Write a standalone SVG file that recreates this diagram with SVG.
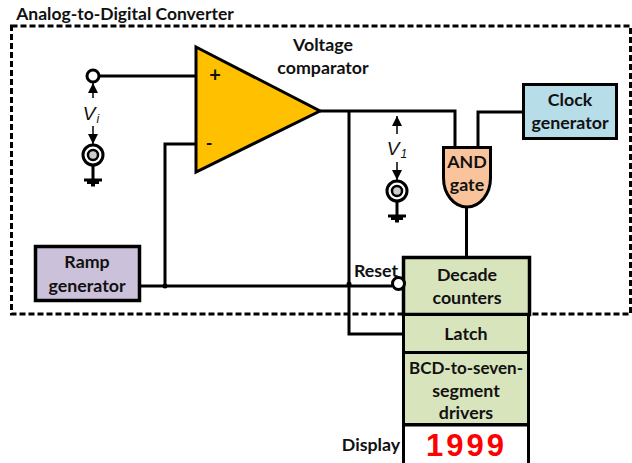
<svg xmlns="http://www.w3.org/2000/svg" width="632" height="463" viewBox="0 0 632 463">
<style>
text{font-family:"Lato","Open Sans","Liberation Sans",sans-serif;font-weight:700;font-size:17.800px;fill:#111;text-anchor:middle}
.w{fill:none;stroke:#000;stroke-width:3}
.t{fill:none;stroke:#000;stroke-width:1.500}
.v{font-family:"Liberation Sans",sans-serif;font-style:italic;font-weight:400;font-size:19px}
.s{font-size:12px}
</style>
<defs>
<marker id="a" markerWidth="12" markerHeight="12" refX="10" refY="5" orient="auto" markerUnits="userSpaceOnUse"><path d="M0 0L10 5L0 10Z" fill="#000"/></marker>
<g id="src"><circle r="10" fill="#fff" stroke="#000" stroke-width="3"/><circle r="5" fill="#ccc" stroke="#000" stroke-width="2.500"/><path d="M0 11V24" stroke="#000" stroke-width="3" fill="none"/><path d="M-9 25H9M-6 27.500H6M-2 30H2" stroke="#000" stroke-width="3" fill="none"/></g>
</defs>
<rect id="white" width="632" height="463" fill="#fff"/>
<text x="125" y="20" style="font-size:17.500px">Analog-to-Digital Converter</text>
<rect id="boundary" x="11.500" y="26" width="619" height="288" fill="none" stroke="#000" stroke-width="3" stroke-dasharray="6 3"/>
<g id="connectors">
<path class="w" d="M99 76H196M165 286V144H196M140 286H392M320 111H455V147M349 111V334H403M478 147V112H523M466.500 207V257"/>
<circle cx="349" cy="284" r="2.500"/>
<circle cx="165" cy="286" r="2.500"/>
<path class="t" marker-end="url(#a)" d="M93 98V83"/>
<path class="t" marker-end="url(#a)" d="M93 126V144"/>
<path class="t" marker-end="url(#a)" d="M397 134V116"/>
<path class="t" marker-end="url(#a)" d="M397 162V180"/>
</g>
<g id="vi"><circle cx="93" cy="76" r="6" fill="#fff" stroke="#000" stroke-width="3"/><text class="v" x="91" y="120">V<tspan class="s" dy="3" dx="1">i</tspan></text><use href="#src" x="93" y="155"/></g>
<g id="v1"><text class="v" x="397" y="155">V<tspan class="s" dy="3" dx="1">1</tspan></text><use href="#src" x="397" y="191"/></g>
<g id="comparator"><path d="M196 47L320 111L196 172Z" fill="#ffc000" stroke="#000" stroke-width="3"/><text x="215" y="82" style="font-size:20px">+</text><text x="209" y="150" style="font-size:18px">-</text><text x="323" y="51">Voltage</text><text x="323" y="74">comparator</text></g>
<g id="ramp"><rect x="35.500" y="246.500" width="104" height="54" fill="#ccc1da" stroke="#000" stroke-width="3.500"/><text x="87" y="268">Ramp</text><text x="87" y="292">generator</text></g>
<g id="clock"><rect x="523.500" y="84.500" width="93" height="54" fill="#b7dde8" stroke="#000" stroke-width="3"/><text x="570" y="106">Clock</text><text x="570" y="129">generator</text></g>
<g id="and"><path d="M443.500 147.500H490.500V178C490.500 194 480 207 467 207C454 207 443.500 194 443.500 178Z" fill="#f9c49b" stroke="#000" stroke-width="3"/><text x="467" y="168">AND</text><text x="467" y="191">gate</text></g>
<g id="decade"><rect x="403.500" y="257.500" width="126" height="57" fill="#d8e4bc" stroke="#000" stroke-width="3.500"/><text x="467" y="281">Decade</text><text x="467" y="304">counters</text></g>
<g id="latch"><rect x="403.500" y="314.500" width="125" height="38" fill="#d8e4bc" stroke="#000" stroke-width="3"/><text x="466" y="340">Latch</text></g>
<g id="bcd"><rect x="403.500" y="352.500" width="125" height="72" fill="#d8e4bc" stroke="#000" stroke-width="3"/><text x="466" y="374" style="font-size:17px">BCD-to-seven-</text><text x="466" y="397">segment</text><text x="466" y="419">drivers</text></g>
<g id="display"><path d="M403.500 463V425H528.500V463" fill="#fff" stroke="#000" stroke-width="3"/><text x="371" y="451">Display</text><text x="465" y="456" textLength="78" lengthAdjust="spacing" style="font-family:'Liberation Sans',sans-serif;font-size:31px;fill:#ff0000;font-weight:700">1999</text></g>
<g id="reset"><text x="376" y="277">Reset</text><circle cx="398.500" cy="283.500" r="6" fill="#fff" stroke="#000" stroke-width="3"/></g>
</svg>
